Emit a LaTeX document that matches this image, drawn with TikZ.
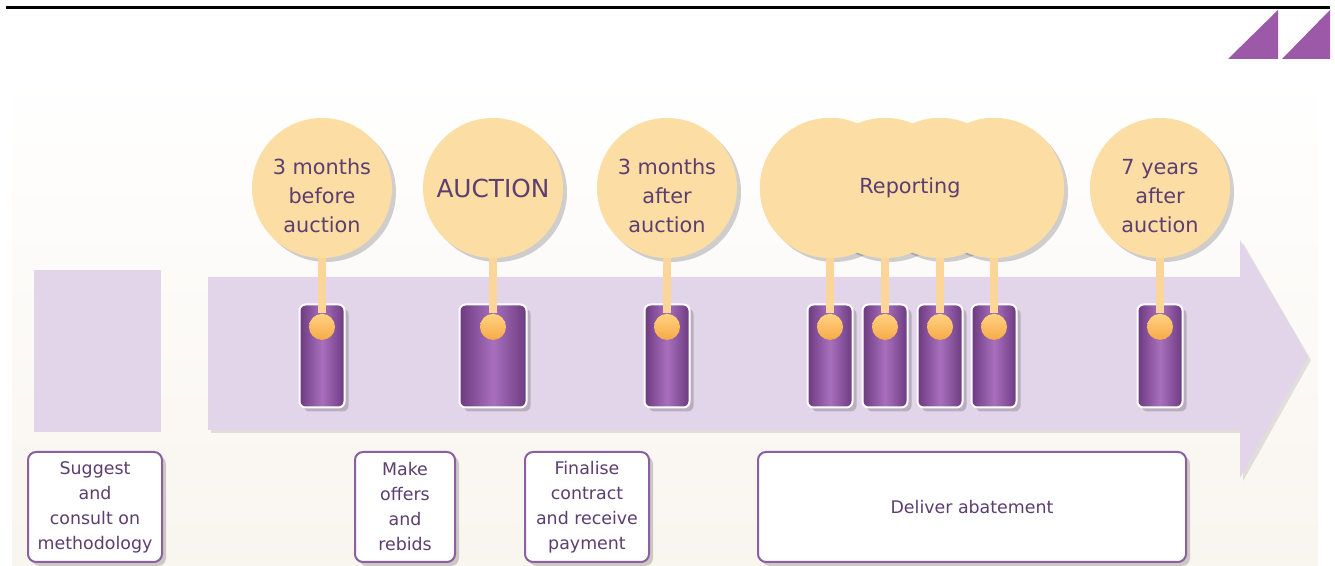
\documentclass[tikz,border=0pt]{standalone}
\usepackage{fontspec}
\setmainfont{DejaVu Sans}
\usepackage{tikz}
\usetikzlibrary{positioning,shadows}

\definecolor{bubblefill}{RGB}{252,221,164}
\definecolor{stemcol}{RGB}{252,214,152}
\definecolor{dottop}{RGB}{255,210,128}
\definecolor{dotbot}{RGB}{247,170,72}
\definecolor{bardark}{RGB}{108,58,128}
\definecolor{barlight}{RGB}{168,112,188}
\definecolor{lav}{RGB}{226,213,234}
\definecolor{txtpurple}{RGB}{92,62,112}
\definecolor{boxline}{RGB}{140,95,160}
\definecolor{logo}{RGB}{155,89,167}
\definecolor{bgcream}{RGB}{249,245,239}

\newcommand{\lift}{\rule{0pt}{16pt}}

\begin{document}
\begin{tikzpicture}[x=0.5pt,y=-0.5pt,node distance=5pt,
	shade/.style={drop shadow={shadow xshift=2pt,shadow yshift=-2pt,opacity=0.18,fill=black}},
	bubble/.style={circle,fill=bubblefill,minimum size=70pt,inner sep=0pt,align=center,text=txtpurple,font=\fontsize{10.4}{14.5}\selectfont,shade},
	bar/.style={rectangle,rounded corners=3pt,draw=white,line width=1pt,left color=bardark,right color=bardark,middle color=barlight,minimum width=22.5pt,minimum height=51.5pt,inner sep=0pt,shade},
	dot/.style={circle,top color=dottop,bottom color=dotbot,minimum size=13pt,inner sep=0pt},
	stem/.style={draw=stemcol,line width=4pt},
	task/.style={rectangle,rounded corners=4pt,draw=boxline,line width=1pt,fill=white,minimum height=55pt,inner sep=2pt,align=center,text=txtpurple,font=\fontsize{8.7}{12.5}\selectfont,shade}]
	\useasboundingbox (0,0) rectangle (1335,566);
	% page rule and logo
	\draw[line width=1.5pt] (6,8) -- (1330,8);
	\fill[logo] (1228,59) -- (1278,10) -- (1278,59) -- cycle;
	\fill[logo] (1282,59) -- (1330,10) -- (1330,59) -- cycle;
	% background and time arrow
	\fill[top color=white,bottom color=bgcream] (12,70) rectangle (1318,566);
	\fill[lav,drop shadow={shadow xshift=1.5pt,shadow yshift=-1.5pt,opacity=0.1,fill=black}] (208,277) -- (1240,277) -- (1240,240) -- (1308,357) -- (1240,478) -- (1240,430) -- (208,430) -- cycle;
	\fill[lav] (34,270) rectangle (161,432);
	% milestones
	\node[bar] (k_0) at (322,356) {};
	\node[bar,minimum width=33.5pt] (k_1) at (493,356) {};
	\node[bar] (k_2) at (667,356) {};
	\node[bar] (k_3) at (830,356) {};
	\node[bar] (k_4) at (885,356) {};
	\node[bar] (k_5) at (940,356) {};
	\node[bar] (k_6) at (994,356) {};
	\node[bar] (k_7) at (1160,356) {};
	\node[bubble] (t_0) at (322,188) {\lift 3 months\\before\\auction};
	\node[bubble,font=\fontsize{12.4}{15}\selectfont] (t_1) at (493,188) {AUCTION};
	\node[bubble] (t_2) at (667,188) {\lift 3 months\\after\\auction};
	\node[bubble] (r_0) at (830,188) {};
	\node[bubble] (r_1) at (885,188) {};
	\node[bubble] (r_2) at (940,188) {};
	\node[bubble] (r_3) at (994,188) {};
	% cover the inner shadows of the cloud
	\fill[bubblefill] (r_0.center) circle[radius=35pt] (r_1.center) circle[radius=35pt]
		(r_2.center) circle[radius=35pt] (r_3.center) circle[radius=35pt];
	\node[text=txtpurple,font=\fontsize{10.4}{14.5}\selectfont] (rep) at (910,188) {Reporting};
	\node[bubble] (t_3) at (1160,188) {\lift 7 years\\after\\auction};
	\node[dot,below=of k_0.north] (d_0) {};
	\node[dot,below=of k_1.north] (d_1) {};
	\node[dot,below=of k_2.north] (d_2) {};
	\node[dot,below=of k_3.north] (d_3) {};
	\node[dot,below=of k_4.north] (d_4) {};
	\node[dot,below=of k_5.north] (d_5) {};
	\node[dot,below=of k_6.north] (d_6) {};
	\node[dot,below=of k_7.north] (d_7) {};
	\path[stem]
		(t_0) edge (d_0)
		(t_1) edge (d_1)
		(t_2) edge (d_2)
		(r_0) edge (d_3)
		(r_1) edge (d_4)
		(r_2) edge (d_5)
		(r_3) edge (d_6)
		(t_3) edge (d_7);
	% activities
	\node[task,minimum width=67pt] (a_0) at (95,507) {Suggest\\and\\consult on\\methodology};
	\node[task,minimum width=50pt] (a_1) at (405,507) {Make\\offers\\and\\rebids};
	\node[task,minimum width=62pt] (a_2) at (587,507) {Finalise\\contract\\and receive\\payment};
	\node[task,minimum width=214pt] (a_3) at (972,507) {Deliver abatement};
\end{tikzpicture}
\end{document}
